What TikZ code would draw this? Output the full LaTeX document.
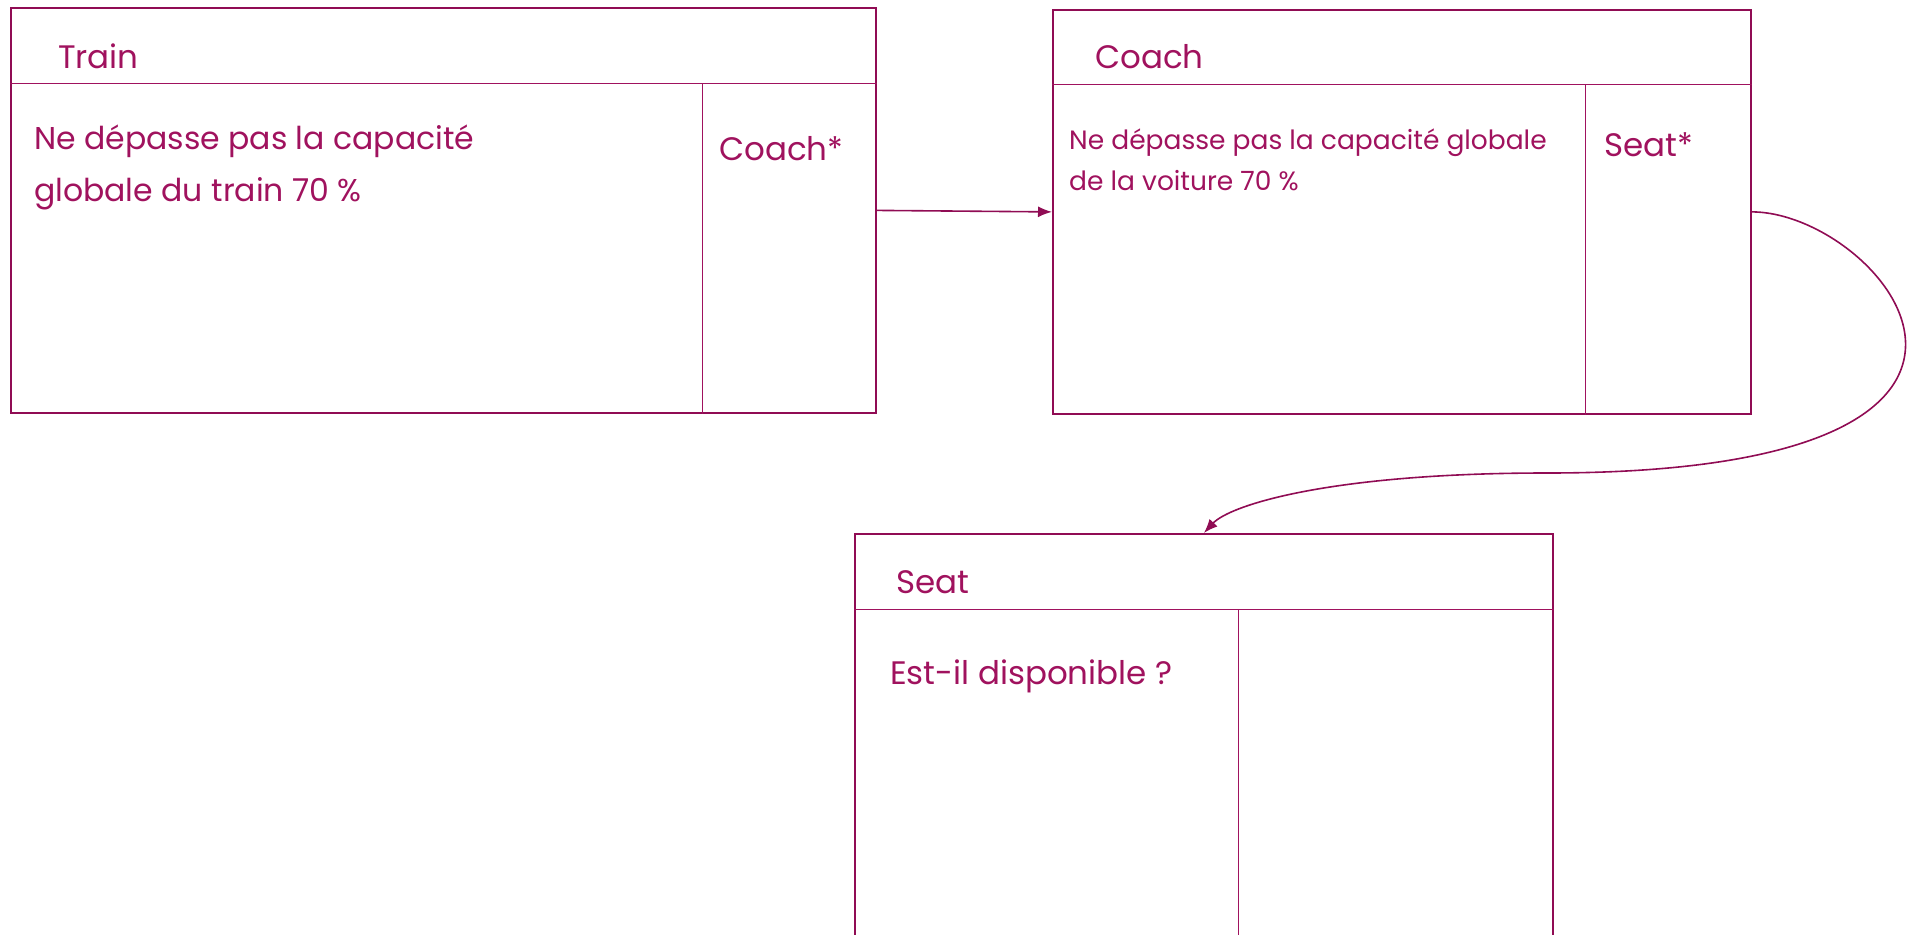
\documentclass[tikz,border=0pt]{standalone}
\usepackage{fontspec}
\setmainfont{Poppins}
\usepackage{xcolor}
\usepackage{tikz}
\usetikzlibrary{arrows.meta, positioning, calc}
\definecolor{plum}{HTML}{A0125E}
\definecolor{plumline}{HTML}{900C54}

\begin{document}
\begin{tikzpicture}[
    x=1pt, y=-1pt,
    classbox/.style={draw=plumline, line width=1.8pt, rectangle, anchor=north west,
      inner sep=0pt},
    sep/.style={draw=plum, line width=0.8pt},
    title/.style={anchor=base west, inner sep=0pt, text=plum,
      font=\fontsize{32.5}{36}\selectfont},
    bigtext/.style={anchor=base west, inner sep=0pt, text=plum, align=left,
      font=\fontsize{31.5}{52}\selectfont},
    smalltext/.style={anchor=base west, inner sep=0pt, text=plum, align=left,
      font=\fontsize{26.5}{41}\selectfont},
    arrow/.style={plumline, line width=1.6pt, -{Latex[length=14pt,width=11pt]}}
]
\useasboundingbox (0,0) rectangle (1910,934);
\clip (0,0) rectangle (1910,934);

% class boxes
\node[classbox, minimum width=865pt, minimum height=405pt] (train) at (10,7) {};
\node[classbox, minimum width=698pt, minimum height=404pt] (coach) at (1052,9) {};
\node[classbox, minimum width=698pt, minimum height=440pt] (seat) at (854,533) {};

% compartments
\draw[sep] ($(train.north west)+(0,76)$) -- ($(train.north east)+(0,76)$);
\draw[sep] ($(train.north west)+(692,76)$) -- ($(train.south west)+(692,0)$);
\draw[sep] ($(coach.north west)+(0,75)$) -- ($(coach.north east)+(0,75)$);
\draw[sep] ($(coach.north west)+(533,75)$) -- ($(coach.south west)+(533,0)$);
\draw[sep] ($(seat.north west)+(0,76)$) -- ($(seat.north east)+(0,76)$);
\draw[sep] ($(seat.north west)+(384,76)$) -- ($(seat.south west)+(384,0)$);

% texts
\node[title] (train-name) at (58,68) {Train};
\node[bigtext] (train-rule) at (34,201) {Ne dépasse pas la capacité\\globale du train 70 \%};
\node[title] (train-link) at (719,160) {Coach*};

\node[title] (coach-name) at (1095,68) {Coach};
\node[smalltext] (coach-rule) at (1069,190) {Ne dépasse pas la capacité globale\\de la voiture 70 \%};
\node[title] (coach-link) at (1604,156) {Seat*};

\node[title] (seat-name) at (896,593) {Seat};
\node[title] (seat-rule) at (890,684) {Est-il disponible ?};

% links
\coordinate (bend) at (1547,473);
\draw[arrow] (train.east) -- (coach.west);
\draw[arrow] (coach.east) .. controls +(130,0) and (2100,473) .. (bend)
  .. controls (1330,473) and (1230,505) .. (seat.north);
\end{tikzpicture}
\end{document}
